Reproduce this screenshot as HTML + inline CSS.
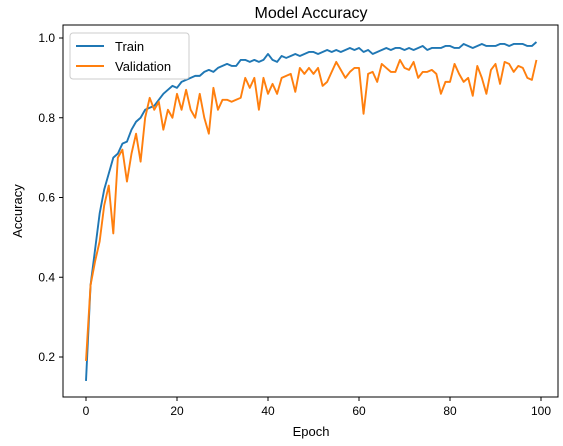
<!DOCTYPE html>
<html><head><meta charset="utf-8"><style>
body{margin:0;background:#fff;}
svg text{font-family:"Liberation Sans","DejaVu Sans",sans-serif;fill:#000;}
</style></head><body>
<svg id="chart" width="563" height="441" xmlns="http://www.w3.org/2000/svg">
<rect width="563" height="441" fill="#fff"/>
<text x="311" y="18" font-size="16" text-anchor="middle">Model Accuracy</text>
<g id="grid"></g>
<g id="series"></g>
<rect x="63" y="25" width="495" height="372" fill="none" stroke="#000" stroke-width="1"/>
<g id="ticks"></g>
<text x="311" y="436" font-size="13" text-anchor="middle">Epoch</text>
<text x="22" y="211" font-size="13" text-anchor="middle" transform="rotate(-90 22 211)">Accuracy</text>
<g>
<rect x="70" y="33" width="119" height="46" rx="3" fill="#fff" fill-opacity="0.8" stroke="#ccc"/>
<line x1="76" y1="46" x2="104" y2="46" stroke="#1f77b4" stroke-width="2"/>
<text x="115" y="51" font-size="13">Train</text>
<line x1="76" y1="66" x2="104" y2="66" stroke="#ff7f0e" stroke-width="2"/>
<text x="115" y="71" font-size="13">Validation</text>
</g>
</svg>
<script>
const epochs = Array.from({length:100},(_,i)=>i);
const trainAcc = [.14,.38,.47,.56,.62,.66,.70,.71,.735,.74,
.77,.79,.80,.82,.825,.83,.845,.86,.87,.88,
.875,.89,.895,.90,.905,.905,.915,.92,.915,.925,
.93,.935,.93,.93,.945,.945,.94,.945,.94,.945,
.96,.945,.94,.955,.95,.955,.96,.955,.96,.965,
.965,.96,.965,.97,.965,.97,.965,.97,.975,.97,
.975,.965,.97,.96,.965,.97,.975,.97,.975,.975,
.97,.975,.97,.975,.98,.97,.975,.975,.975,.98,
.98,.975,.975,.985,.98,.975,.98,.985,.98,.98,
.98,.985,.985,.98,.985,.985,.985,.98,.98,.99];
const valAcc = [.19,.38,.44,.49,.58,.63,.51,.70,.72,.64,
.71,.76,.69,.80,.85,.82,.84,.77,.82,.80,
.86,.82,.87,.82,.80,.86,.80,.76,.875,.82,
.845,.845,.84,.845,.85,.90,.875,.90,.82,.90,
.86,.885,.86,.90,.905,.91,.865,.925,.91,.925,
.91,.925,.88,.89,.915,.94,.92,.90,.915,.925,
.925,.81,.91,.915,.89,.935,.925,.915,.915,.945,
.925,.92,.94,.90,.915,.915,.92,.91,.86,.89,
.89,.935,.91,.89,.90,.855,.93,.90,.86,.92,
.935,.885,.94,.935,.915,.93,.925,.90,.895,.945];
const xTicks = [0,20,40,60,80,100];
const yTicks = [0.2,0.4,0.6,0.8,1.0];
const yTickLabels = ["0.2","0.4","0.6","0.8","1.0"];

const xs = v => 86 + v*4.55;
const ys = v => 357 - (v-0.2)*398.75;
const NS = "http://www.w3.org/2000/svg";
const ser = document.getElementById('series');
const tk = document.getElementById('ticks');

function line(vals, color, name){
  const p = document.createElementNS(NS,'polyline');
  p.setAttribute('points', vals.map((v,i)=>xs(epochs[i])+','+ys(v)).join(' '));
  p.setAttribute('fill','none');
  p.setAttribute('stroke',color);
  p.setAttribute('stroke-width','1.9');
  p.setAttribute('stroke-linejoin','round');
  
  
  ser.appendChild(p);
}
line(trainAcc,'#1f77b4','train-line');
line(valAcc,'#ff7f0e','validation-line');

xTicks.forEach(t=>{
  const l=document.createElementNS(NS,'line');
  l.setAttribute('x1',xs(t));l.setAttribute('x2',xs(t));l.setAttribute('y1',397);l.setAttribute('y2',401);
  l.setAttribute('stroke','#000');
  
  
  tk.appendChild(l);
  const tx=document.createElementNS(NS,'text');
  tx.setAttribute('x',xs(t));tx.setAttribute('y',415);tx.setAttribute('font-size','12');tx.setAttribute('text-anchor','middle');
  tx.textContent=t;
  
  
  tk.appendChild(tx);
});
yTicks.forEach((t,i)=>{
  const l=document.createElementNS(NS,'line');
  l.setAttribute('x1',59);l.setAttribute('x2',63);l.setAttribute('y1',ys(t));l.setAttribute('y2',ys(t));
  l.setAttribute('stroke','#000');
  
  
  tk.appendChild(l);
  const tx=document.createElementNS(NS,'text');
  tx.setAttribute('x',55);tx.setAttribute('y',ys(t)+4);tx.setAttribute('font-size','12');tx.setAttribute('text-anchor','end');
  tx.textContent=yTickLabels[i];
  
  
  tk.appendChild(tx);
});
</script>
</body></html>
